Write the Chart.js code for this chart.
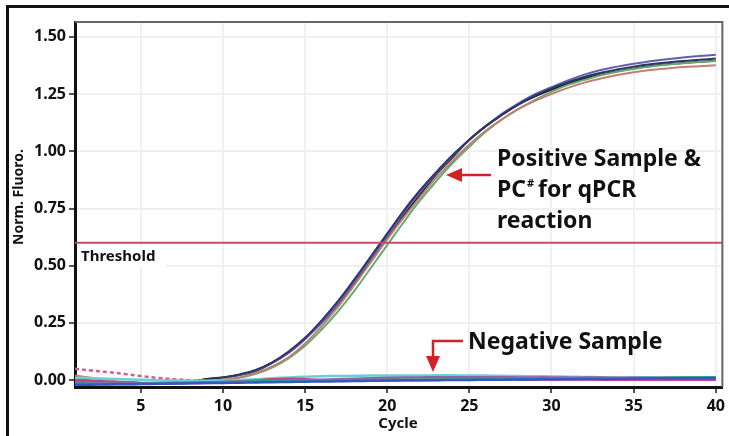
<!DOCTYPE html>
<html>
<head>
<meta charset="utf-8">
<script src="https://cdn.jsdelivr.net/npm/chart.js@4"></script>
<style>
  html, body { margin: 0; padding: 0; background: #fff; }
  canvas { display: block; }
</style>
</head>
<body>
<canvas id="chart" width="729" height="436"></canvas>
<script>
// qPCR amplification plot
const cycles = [1,2,3,4,5,6,7,8,9,10,11,12,13,14,15,16,17,18,19,20,21,22,23,24,25,26,27,28,29,30,31,32,33,34,35,36,37,38,39,40];
const xTicks = [5, 10, 15, 20, 25, 30, 35, 40];
const yTicks = [0, 0.25, 0.5, 0.75, 1.0, 1.25, 1.5];
const threshold = 0.6;

// positive sample / PC curves
const posBlack = [0.0,-0.005,-0.01,-0.012,-0.013,-0.013,-0.012,-0.008,0.005,0.012,0.022,0.04,0.075,0.12,0.18,0.25,0.33,0.42,0.52,0.62,0.72,0.81,0.9,0.975,1.05,1.11,1.16,1.205,1.24,1.27,1.295,1.318,1.336,1.35,1.362,1.372,1.38,1.386,1.391,1.396];
const posBlue = [0.01,0.0,-0.005,-0.01,-0.012,-0.012,-0.01,-0.006,0.0,0.01,0.022,0.042,0.075,0.12,0.18,0.25,0.335,0.43,0.53,0.63,0.73,0.82,0.905,0.98,1.05,1.11,1.165,1.21,1.25,1.28,1.31,1.335,1.355,1.37,1.383,1.393,1.402,1.41,1.416,1.422];
const posGreen = [0.0,-0.005,-0.01,-0.012,-0.014,-0.014,-0.013,-0.01,-0.005,0.003,0.012,0.028,0.055,0.095,0.15,0.22,0.3,0.39,0.49,0.59,0.69,0.785,0.87,0.95,1.02,1.085,1.14,1.185,1.225,1.26,1.29,1.312,1.332,1.348,1.36,1.37,1.378,1.385,1.39,1.395];
const posRed = [0.02,0.01,0.0,-0.008,-0.012,-0.013,-0.012,-0.01,-0.006,0.0,0.01,0.03,0.06,0.1,0.16,0.235,0.32,0.415,0.515,0.615,0.71,0.8,0.885,0.96,1.03,1.09,1.14,1.185,1.22,1.25,1.277,1.3,1.318,1.333,1.345,1.355,1.362,1.368,1.372,1.376];
const posNavy = [0.0,-0.004,-0.008,-0.01,-0.012,-0.012,-0.01,-0.006,0.002,0.012,0.025,0.045,0.078,0.125,0.185,0.26,0.345,0.44,0.54,0.64,0.74,0.83,0.91,0.985,1.05,1.11,1.16,1.205,1.243,1.275,1.302,1.325,1.343,1.358,1.37,1.38,1.388,1.395,1.4,1.405];

// negative sample curves
const negPink = [0.05,0.042,0.035,0.027,0.018,0.01,0.004,0.0,-0.003,-0.005,-0.006,-0.006,-0.005,-0.004,-0.003,-0.002,-0.001,0,0,0.001,0.002,0.002,0.003,0.003,0.003,0.004,0.004,0.004,0.004,0.004,0.005,0.005,0.005,0.005,0.005,0.005,0.005,0.006,0.006,0.006];
const negCyan = [0.01,0.008,0.006,0.004,0.002,0.0,-0.002,-0.003,-0.003,-0.002,0.0,0.004,0.008,0.012,0.015,0.017,0.018,0.019,0.02,0.02,0.02,0.02,0.021,0.021,0.02,0.02,0.019,0.018,0.017,0.016,0.015,0.014,0.013,0.012,0.012,0.011,0.011,0.012,0.012,0.013];
const negPurple = [-0.01,-0.012,-0.014,-0.015,-0.015,-0.015,-0.014,-0.013,-0.012,-0.01,-0.008,-0.006,-0.004,-0.002,0.0,0.002,0.004,0.006,0.008,0.01,0.011,0.012,0.013,0.013,0.013,0.013,0.013,0.012,0.012,0.012,0.011,0.011,0.011,0.01,0.01,0.01,0.01,0.01,0.01,0.01];
const negTeal = [-0.015,-0.016,-0.017,-0.017,-0.016,-0.015,-0.014,-0.012,-0.01,-0.008,-0.006,-0.005,-0.004,-0.003,-0.002,-0.001,0,0,0.001,0.001,0.002,0.002,0.003,0.003,0.004,0.004,0.005,0.005,0.006,0.006,0.007,0.007,0.008,0.008,0.009,0.009,0.01,0.011,0.012,0.013];
const negMagenta = [0.0,-0.005,-0.008,-0.01,-0.012,-0.012,-0.012,-0.011,-0.01,-0.008,-0.006,-0.002,0.004,0.006,0.004,0.0,-0.002,-0.003,-0.003,-0.002,-0.001,0,0.001,0.002,0.002,0.003,0.003,0.003,0.003,0.003,0.003,0.003,0.002,0.002,0.002,0.002,0.002,0.002,0.002,0.002];
const negBlue = [-0.02,-0.02,-0.019,-0.018,-0.017,-0.016,-0.015,-0.014,-0.013,-0.012,-0.011,-0.01,-0.009,-0.008,-0.007,-0.006,-0.005,-0.004,-0.003,-0.002,-0.001,0,0,0.001,0.001,0.002,0.002,0.003,0.003,0.004,0.004,0.005,0.005,0.006,0.007,0.008,0.008,0.008,0.008,0.008];

const FONT = "'Noto Sans', sans-serif";
const X_MIN = 1, X_MAX = 40.4, Y_MIN = -0.03, Y_MAX = 1.565;

function series(values, color, width, dash) {
  return {
    data: values.map((v, i) => ({ x: cycles[i], y: v })),
    borderColor: color,
    borderWidth: width,
    borderDash: dash || [],
    pointRadius: 0,
    tension: 0.4,
    fill: false
  };
}

const frame = {
  id: "frame",
  beforeDraw(chart) {
    const c = chart.ctx;
    c.save();
    c.fillStyle = "#fff";
    c.fillRect(0, 0, chart.width, chart.height);
    c.fillStyle = "#111";
    c.fillRect(6, 5, chart.width - 6, 3);
    c.fillRect(6, 5, 3, chart.height - 5);
    c.restore();
  },
  afterDraw(chart) {
    const c = chart.ctx;
    const a = chart.chartArea;
    const y = chart.scales.y;
    c.save();
    // top / right plot border
    c.strokeStyle = "#666";
    c.lineWidth = 2;
    c.beginPath();
    c.moveTo(a.left, a.top);
    c.lineTo(a.right, a.top);
    c.lineTo(a.right, a.bottom);
    c.stroke();

    // threshold label
    const ty = y.getPixelForValue(threshold);
    c.fillStyle = "#fff";
    c.fillRect(a.left + 2, ty + 3, 89, 21);
    c.fillStyle = "#111";
    c.font = "700 15px " + FONT;
    c.textBaseline = "middle";
    c.textAlign = "left";
    c.fillText("Threshold", a.left + 6, ty + 14);

    // annotations
    c.font = "700 23px " + FONT;
    c.textBaseline = "alphabetic";
    c.fillText("Positive Sample &", 497, 166);
    c.fillText("PC", 497, 197);
    const pcw = c.measureText("PC").width;
    c.font = "700 11px " + FONT;
    c.fillText("#", 497 + pcw + 1, 187);
    c.font = "700 23px " + FONT;
    c.fillText("for qPCR", 497 + pcw + 12, 197);
    c.fillText("reaction", 497, 228);
    c.fillText("Negative Sample", 468, 349);

    // arrows
    c.strokeStyle = "#d42027";
    c.fillStyle = "#d42027";
    c.lineWidth = 2.5;
    c.beginPath();
    c.moveTo(491, 175);
    c.lineTo(460, 175);
    c.stroke();
    c.beginPath();
    c.moveTo(446, 175);
    c.lineTo(462, 168);
    c.lineTo(462, 182);
    c.closePath();
    c.fill();

    c.beginPath();
    c.moveTo(463, 341);
    c.lineTo(433, 341);
    c.lineTo(433, 358);
    c.stroke();
    c.beginPath();
    c.moveTo(433, 372);
    c.lineTo(426, 356);
    c.lineTo(440, 356);
    c.closePath();
    c.fill();

    // axis titles
    c.fillStyle = "#111";
    c.font = "700 15px " + FONT;
    c.textAlign = "center";
    c.textBaseline = "middle";
    c.fillText("Cycle", 398, 424);
    c.translate(19, 197);
    c.rotate(-Math.PI / 2);
    c.font = "700 14px " + FONT;
    c.fillText("Norm. Fluoro.", 0, 0);
    c.restore();
  }
};

new Chart(document.getElementById("chart").getContext("2d"), {
  type: "line",
  data: {
    datasets: [
      series(negBlue, "#3a55c0", 2.5),
      series(negTeal, "#2aa58a", 2.5),
      series(negPurple, "#9460aa", 2.5),
      series(negMagenta, "#c8408c", 2.5),
      series(negCyan, "#6ccfd6", 2.5),
      series(negPink, "#d45a90", 2.5, [4, 3]),
      {
        data: [{ x: X_MIN, y: threshold }, { x: X_MAX, y: threshold }],
        borderColor: "#c04c6a",
        borderWidth: 2,
        pointRadius: 0
      },
      series(posRed, "#c08070", 2),
      series(posGreen, "#6aa874", 2),
      series(posNavy, "#2c3468", 2),
      series(posBlue, "#6060b0", 2),
      series(posBlack, "#1a1a1a", 2)
    ]
  },
  options: {
    responsive: false,
    animation: false,
    layout: { padding: { top: 22, right: 5, left: 0, bottom: 0 } },
    plugins: { legend: { display: false }, tooltip: { enabled: false } },
    scales: {
      x: {
        type: "linear",
        min: X_MIN,
        max: X_MAX,
        afterBuildTicks: s => { s.ticks = xTicks.map(v => ({ value: v })); },
        afterFit: s => { s.height = 49; },
        grid: { color: "#f0f0f0", lineWidth: 2, tickLength: 6, tickColor: "#555" },
        border: { color: "#111", width: 3 },
        ticks: { color: "#111", padding: 4, font: { family: FONT, size: 16, weight: "700" } }
      },
      y: {
        min: Y_MIN,
        max: Y_MAX,
        afterBuildTicks: s => { s.ticks = yTicks.map(v => ({ value: v })); },
        afterFit: s => { s.width = 75; },
        grid: { color: "#f0f0f0", lineWidth: 2, tickLength: 6, tickColor: "#555" },
        border: { color: "#111", width: 3 },
        ticks: {
          color: "#111",
          padding: 3,
          font: { family: FONT, size: 16, weight: "700" },
          callback: v => v.toFixed(2)
        }
      }
    }
  },
  plugins: [frame]
});
</script>
</body>
</html>
